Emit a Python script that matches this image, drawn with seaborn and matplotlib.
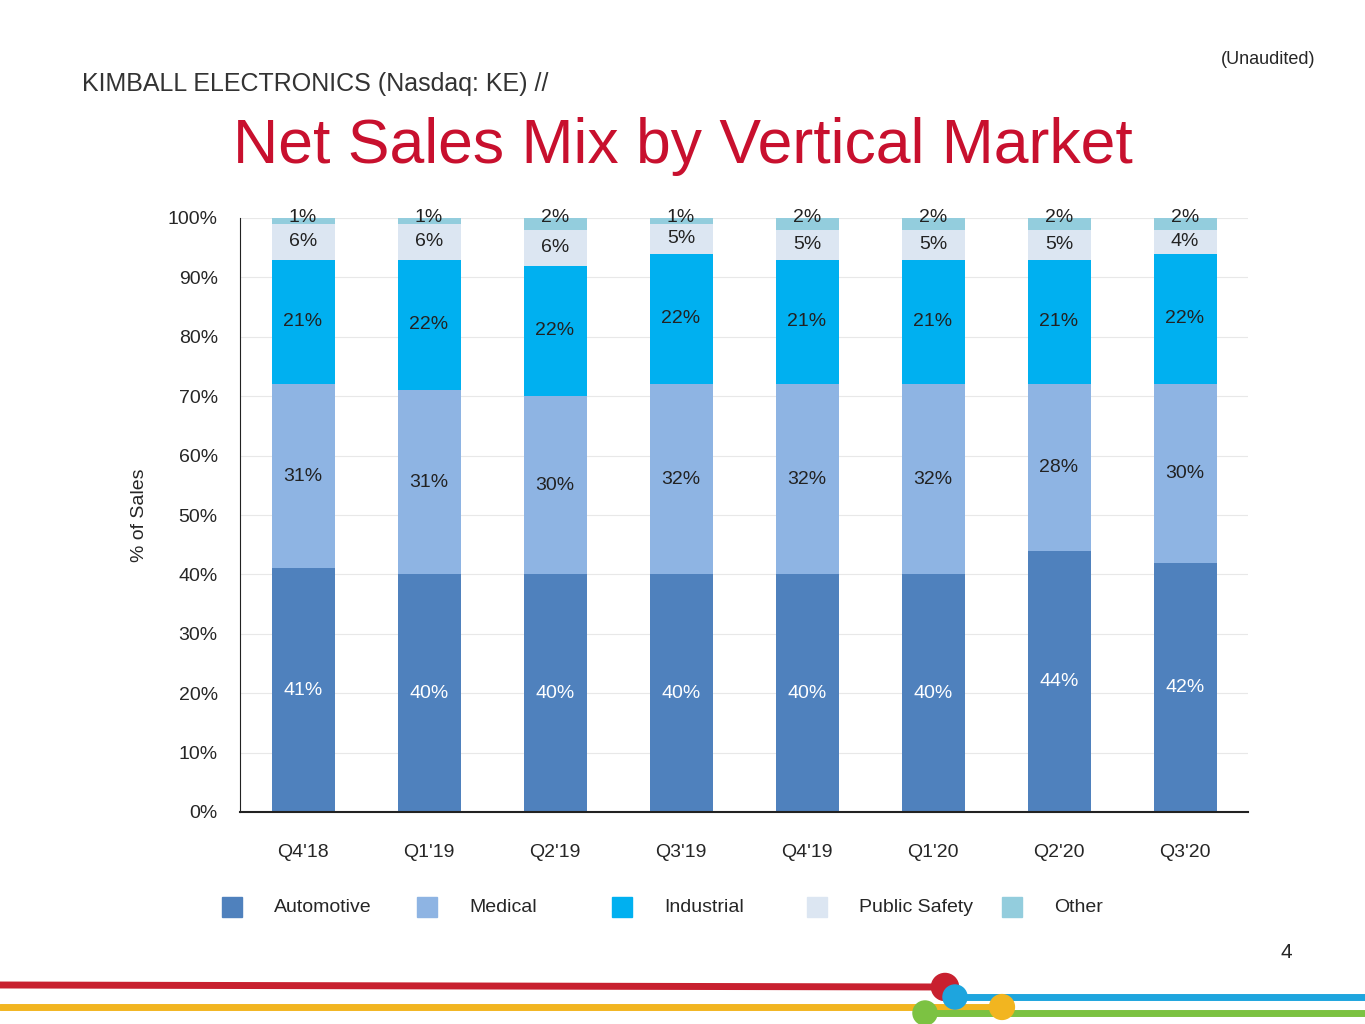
import matplotlib
matplotlib.use("Agg")
import matplotlib.pyplot as plt
import seaborn as sns
import pandas as pd
import numpy as np
from matplotlib.lines import Line2D

quarters = ["Q4'18", "Q1'19", "Q2'19", "Q3'19", "Q4'19", "Q1'20", "Q2'20", "Q3'20"]
automotive = [41, 40, 40, 40, 40, 40, 44, 42]
medical = [31, 31, 30, 32, 32, 32, 28, 30]
industrial = [21, 22, 22, 22, 21, 21, 21, 22]
public_safety = [6, 6, 6, 5, 5, 5, 5, 4]
other = [1, 1, 2, 1, 2, 2, 2, 2]

series = ["Automotive", "Medical", "Industrial", "Public Safety", "Other"]
colors = ["#4F81BD", "#8EB4E3", "#00B0F0", "#DCE6F2", "#93CDDD"]
values = [automotive, medical, industrial, public_safety, other]

sns.set_style("white")
plt.rcParams["font.family"] = ["Liberation Sans", "DejaVu Sans"]

fig = plt.figure(figsize=(13.65, 10.24), dpi=100)
ax = fig.add_axes([240 / 1365, 1 - 812 / 1024, 1008 / 1365, 594 / 1024])

cum = np.cumsum(np.array(values), axis=0)
# draw tallest stack first, then cover with shorter ones
for i in range(len(series) - 1, -1, -1):
    df = pd.DataFrame({"q": quarters, "v": cum[i]})
    sns.barplot(data=df, x="q", y="v", color=colors[i], width=0.5,
                saturation=1, linewidth=0, ax=ax, zorder=2)

for j in range(len(quarters)):
    bottom = 0
    for i, name in enumerate(series):
        v = values[i][j]
        y = bottom + v / 2 if i < 4 else 100.0
        col = "white" if i == 0 else "#222222"
        ax.text(j, y, f"{v}%", ha="center", va="center", fontsize=14, color=col, zorder=3)
        bottom += v

ax.set_ylim(0, 100)
ax.set_xlim(-0.5, 7.5)
ax.set_yticks(range(0, 101, 10))
ax.set_yticklabels([f"{t}%" for t in range(0, 101, 10)], fontsize=14)
ax.tick_params(axis="x", labelsize=14, pad=18, length=5, color="#222222")
ax.tick_params(axis="y", length=6, color="#222222", pad=10)
ax.yaxis.grid(True, color="#E8E8E8", zorder=0)
ax.set_axisbelow(True)
ax.set_xlabel("")
ax.set_ylabel("% of Sales", fontsize=14, labelpad=14)
for s in ["top", "right"]:
    ax.spines[s].set_visible(False)
ax.spines["left"].set_color("#222222")
ax.spines["bottom"].set_color("#222222")
ax.spines["bottom"].set_linewidth(1.5)

# legend drawn by hand for exact spacing
leg_y = 1 - 907 / 1024
for k, (name, c) in enumerate(zip(series, colors)):
    x0 = (232 + 195 * k) / 1365
    fig.add_artist(Line2D([x0], [leg_y], marker="s", markersize=15, color=c,
                          linestyle="", transform=fig.transFigure))
    fig.text(x0 + 42 / 1365, leg_y, name, fontsize=14, va="center")

fig.text(82 / 1365, 1 - 84 / 1024, "KIMBALL ELECTRONICS (Nasdaq: KE) //", fontsize=18,
         color="#333333", va="center")
fig.text(1315 / 1365, 1 - 59 / 1024, "(Unaudited)", fontsize=13, ha="right", va="center")
fig.text(683 / 1365, 1 - 147 / 1024, "Net Sales Mix by Vertical Market", fontsize=45,
         color="#C8102E", ha="center", va="center")
fig.text(1286 / 1365, 1 - 952 / 1024, "4", fontsize=15, ha="center", va="center")

# footer lines
deco = fig.add_axes([0, 0, 1, 1], zorder=-1)
deco.set_xlim(0, 1365)
deco.set_ylim(1024, 0)
deco.axis("off")
deco.plot([0, 945], [985, 987], color="#C8202F", lw=5)
deco.plot([0, 1000], [1007, 1007], color="#F2B520", lw=5)
deco.plot([955, 1365], [997, 997], color="#1EA5DE", lw=5)
deco.plot([925, 1365], [1013, 1013], color="#7CC242", lw=5)
deco.scatter([945, 955, 1002, 925], [987, 997, 1007, 1013], s=[380, 300, 320, 300],
             color=["#C8202F", "#1EA5DE", "#F2B520", "#7CC242"], zorder=3)

fig.savefig("out.png", dpi=100)
